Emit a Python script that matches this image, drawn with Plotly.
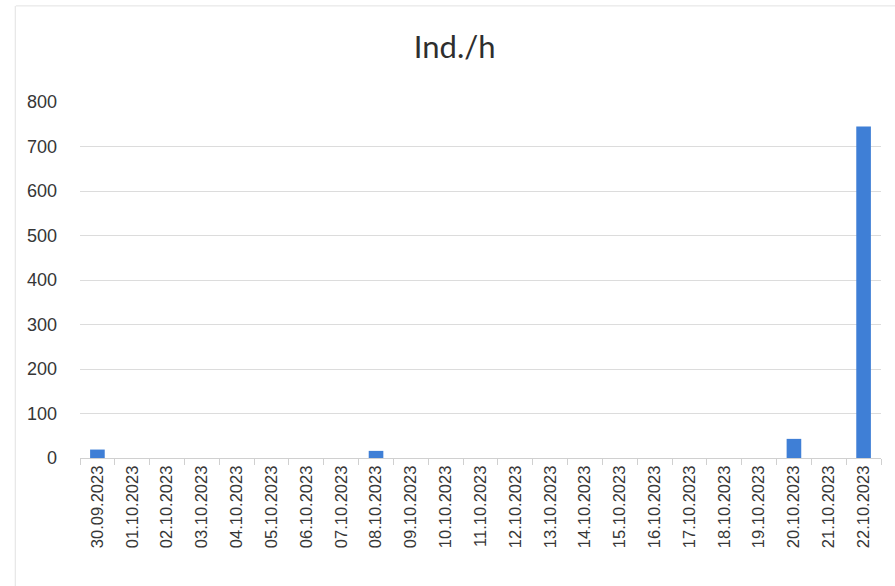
import plotly.graph_objects as go

# Daily counts, individuals per hour
dates = [
    "30.09.2023", "01.10.2023", "02.10.2023", "03.10.2023", "04.10.2023",
    "05.10.2023", "06.10.2023", "07.10.2023", "08.10.2023", "09.10.2023",
    "10.10.2023", "11.10.2023", "12.10.2023", "13.10.2023", "14.10.2023",
    "15.10.2023", "16.10.2023", "17.10.2023", "18.10.2023", "19.10.2023",
    "20.10.2023", "21.10.2023", "22.10.2023",
]
ind_per_h = [19, 0, 0, 0, 0, 0, 0, 0, 16, 0,
             0, 0, 0, 0, 0, 0, 0, 0, 0, 0,
             43, 0, 745]
y_ticks = [0, 100, 200, 300, 400, 500, 600, 700, 800]

fig = go.Figure(
    go.Bar(x=dates, y=ind_per_h, marker=dict(color="#3F7FD6", line=dict(width=0)))
)

fig.update_layout(
    width=895, height=586,
    margin=dict(l=80, r=14, t=102, b=128),
    paper_bgcolor="white", plot_bgcolor="white",
    bargap=0.58,
    showlegend=False,
    title=dict(text="Ind./h", x=0.508, xanchor="center", y=0.92, yanchor="middle",
               font=dict(family="Lato, Liberation Sans, sans-serif", size=31, color="#2e2e2e")),
    font=dict(family="Liberation Sans, Arial, sans-serif", color="#363636"),
)

fig.update_xaxes(
    type="category",
    tickangle=-90,
    tickfont=dict(size=16.5, color="#363636"),
    showgrid=False,
    showline=True, linecolor="#d0d0d0", linewidth=1,
    ticks="outside", tickson="boundaries", ticklen=6, tickcolor="#d0d0d0",
)

fig.update_yaxes(
    range=[0, 800],
    tickvals=y_ticks,
    tickfont=dict(size=18, color="#363636"),
    showgrid=True, gridcolor="#dcdcdc", gridwidth=1,
    zeroline=False, showline=False,
    ticklabelstandoff=22,
)

# faint chart frame along the top and left edges
fig.add_shape(type="line", xref="paper", yref="paper",
              x0=-0.08, x1=1.02, y0=1.27, y1=1.27,
              line=dict(color="#e2e2e2", width=1))
fig.add_shape(type="line", xref="paper", yref="paper",
              x0=-0.0808, x1=-0.0808, y0=1.27, y1=-0.36,
              line=dict(color="#e2e2e2", width=1))

fig.write_html("out.html")
